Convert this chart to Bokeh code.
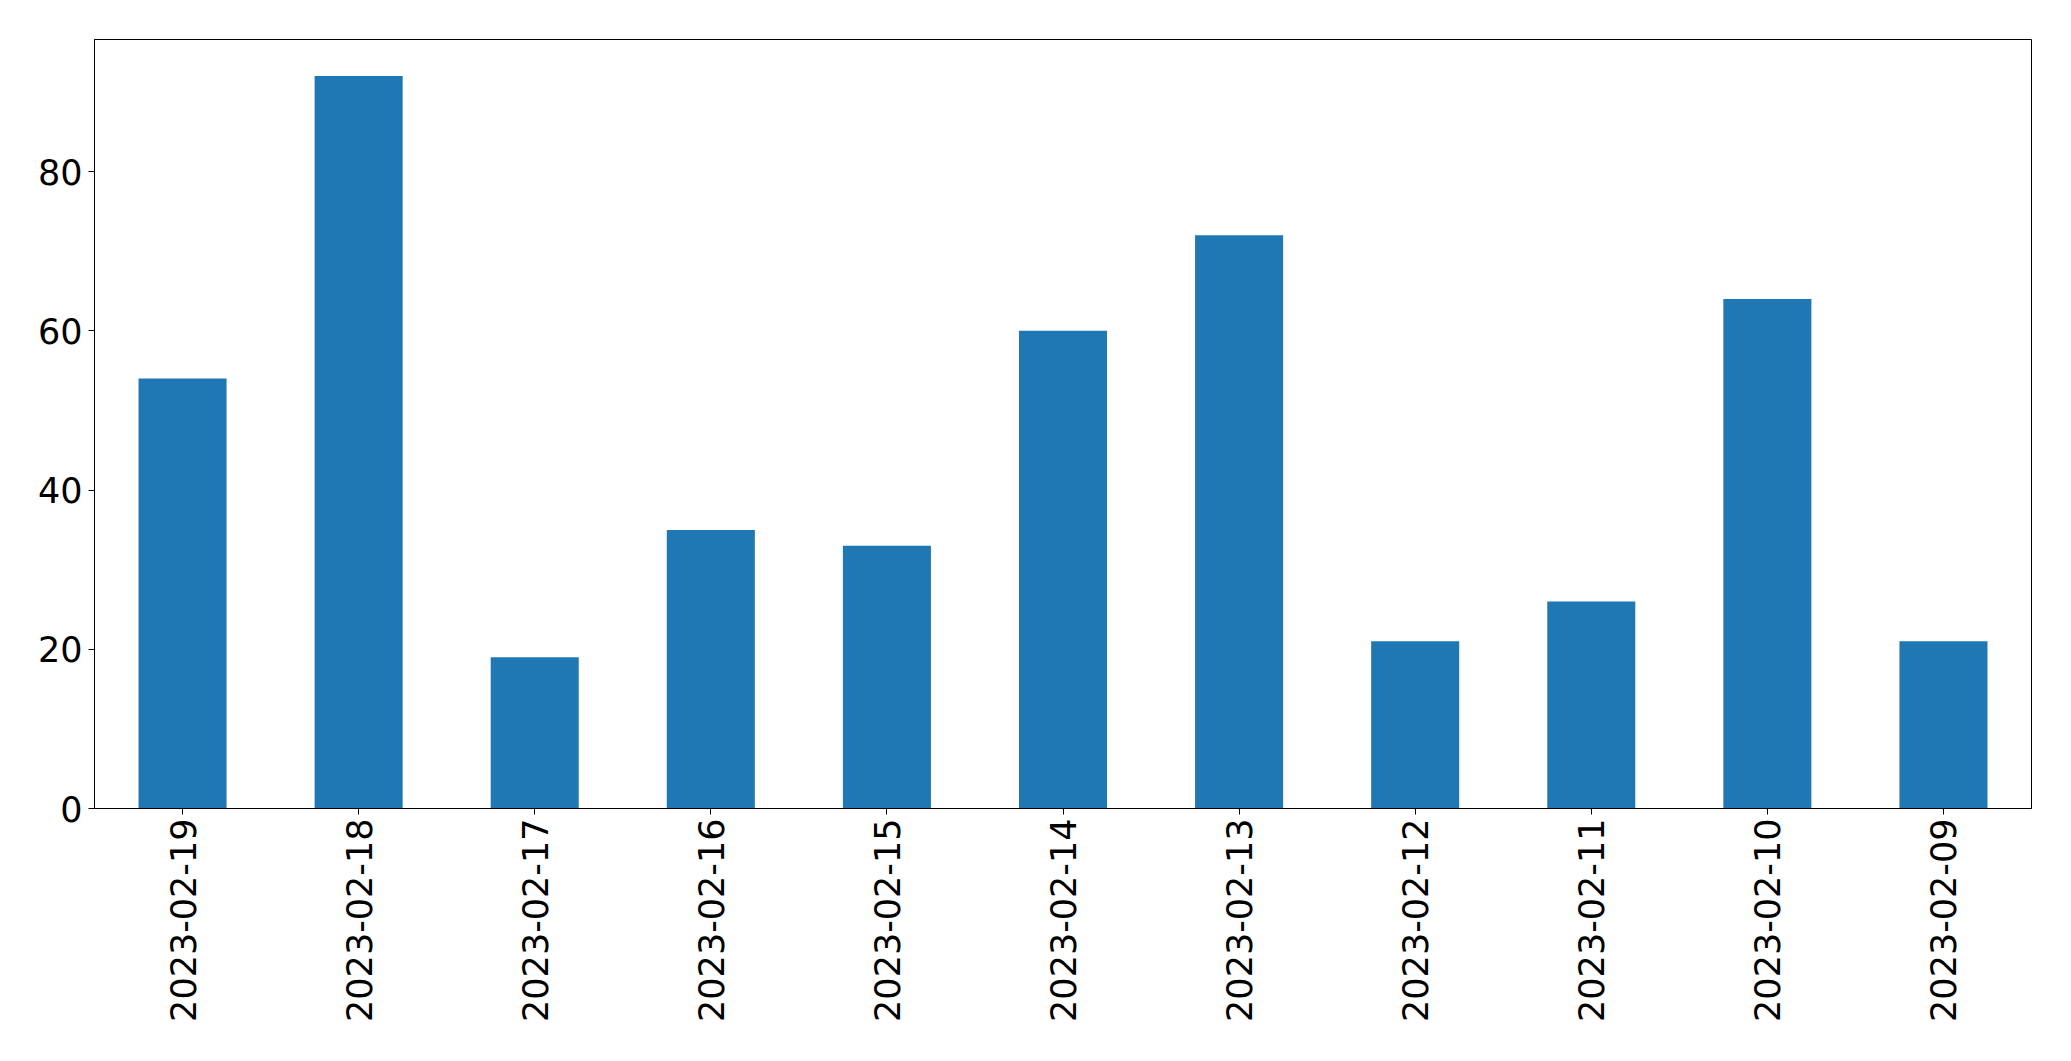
import math
from bokeh.plotting import figure
from bokeh.models import FactorRange, Range1d, FixedTicker, ColumnDataSource
from bokeh.embed import file_html
from bokeh.resources import INLINE

dates = ["2023-02-19", "2023-02-18", "2023-02-17", "2023-02-16", "2023-02-15",
         "2023-02-14", "2023-02-13", "2023-02-12", "2023-02-11", "2023-02-10",
         "2023-02-09"]
counts = [54, 92, 19, 35, 33, 60, 72, 21, 26, 64, 21]
y_ticks = [0, 20, 40, 60, 80]

src = ColumnDataSource(dict(x=dates, y=counts))

p = figure(
    width=2055, height=1045,
    x_range=FactorRange(*dates),
    y_range=Range1d(0, max(counts) * 1.05),
    output_backend="svg", toolbar_location=None,
    min_border_left=94, min_border_top=39, min_border_right=24, min_border_bottom=237,
)
p.vbar(x="x", top="y", width=0.5, source=src, fill_color="#1f77b4", line_color=None)

p.xgrid.visible = False
p.ygrid.visible = False
p.outline_line_color = "black"
p.outline_line_width = 1
p.outline_line_alpha = 1.0
p.background_fill_color = "white"
p.border_fill_color = "white"

p.yaxis.ticker = FixedTicker(ticks=y_ticks)
for ax in (p.xaxis[0], p.yaxis[0]):
    ax.axis_line_color = "black"
    ax.major_tick_line_color = "black"
    ax.major_tick_out = 6
    ax.major_tick_in = 0
    ax.minor_tick_line_color = None
    ax.major_label_text_font = "DejaVu Sans"
    ax.major_label_text_font_size = "35px"
    ax.major_label_text_color = "black"
    ax.major_label_standoff = 6
p.xaxis.major_label_standoff = 4
p.xaxis.major_label_orientation = math.pi / 2

open("out.html", "w").write(file_html(p, INLINE))
